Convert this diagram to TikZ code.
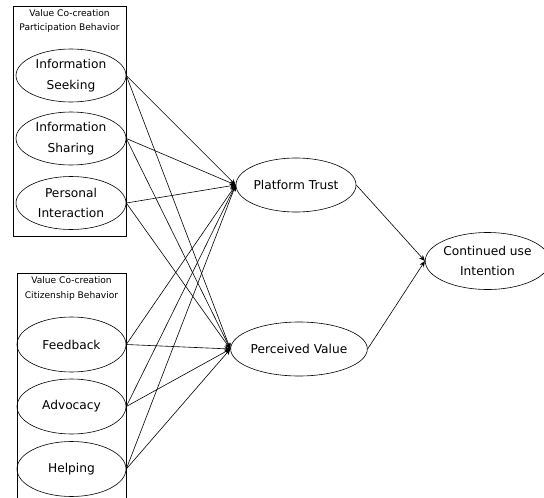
\documentclass[tikz,border=0pt]{standalone}
\usepackage{fontspec}
\setmainfont{DejaVu Sans}
\usetikzlibrary{shapes.geometric,arrows.meta}
\begin{document}
\begin{tikzpicture}[x=1pt,y=-1pt,
  construct/.style={draw,ellipse,inner sep=0pt,minimum width=110pt,minimum height=53pt,align=center,font=\fontsize{12.2}{20.5}\selectfont,line width=0.6pt},
  grouplabel/.style={align=center,font=\fontsize{9.1}{14.5}\selectfont,inner sep=0pt},
  path/.style={line width=0.6pt,-{Stealth[length=6pt,width=5pt]}},
  groupbox/.style={draw,line width=0.6pt}]
\useasboundingbox (0,0) rectangle (544,498);
% group boxes
\draw[groupbox] (13,6) rectangle (126,236);
\draw[groupbox] (17,498) -- (17,273) -- (126,273) -- (126,498);
\node[grouplabel] (g1) at (69.5,21) {Value Co-creation\\Participation Behavior};
\node[grouplabel] (g2) at (71.5,288.5) {Value Co-creation\\Citizenship Behavior};
% left constructs
\node[construct] (is) at (71,75.5) {Information\\Seeking};
\node[construct] (ish) at (71,138.5) {Information\\Sharing};
\node[construct] (pi) at (71,203) {Personal\\Interaction};
\node[construct,minimum width=109pt,minimum height=55pt] (fb) at (71.5,344.5) {Feedback};
\node[construct,minimum width=109pt,minimum height=55pt] (ad) at (71.5,406.5) {Advocacy};
\node[construct,minimum width=109pt,minimum height=55pt] (he) at (71.5,469) {Helping};
% mediators and outcome
\node[construct,minimum width=108pt,minimum height=54pt] (pt) at (296,185) {Platform Trust};
\node[construct,minimum width=106pt,minimum height=54pt] (pv) at (299,349) {Perceived Value};
\node[construct,minimum width=109pt,minimum height=57pt] (ci) at (487.5,261) {Continued use\\Intention};
% paths
\foreach \s in {is,ish,pi,fb,ad,he}{
  \draw[path] (\s.east) -- (pt.west);
  \draw[path] (\s.east) -- (pv.west);
}
\draw[path] (pt.east) -- (ci.west);
\draw[path] (pv.east) -- (ci.west);
\end{tikzpicture}
\end{document}
